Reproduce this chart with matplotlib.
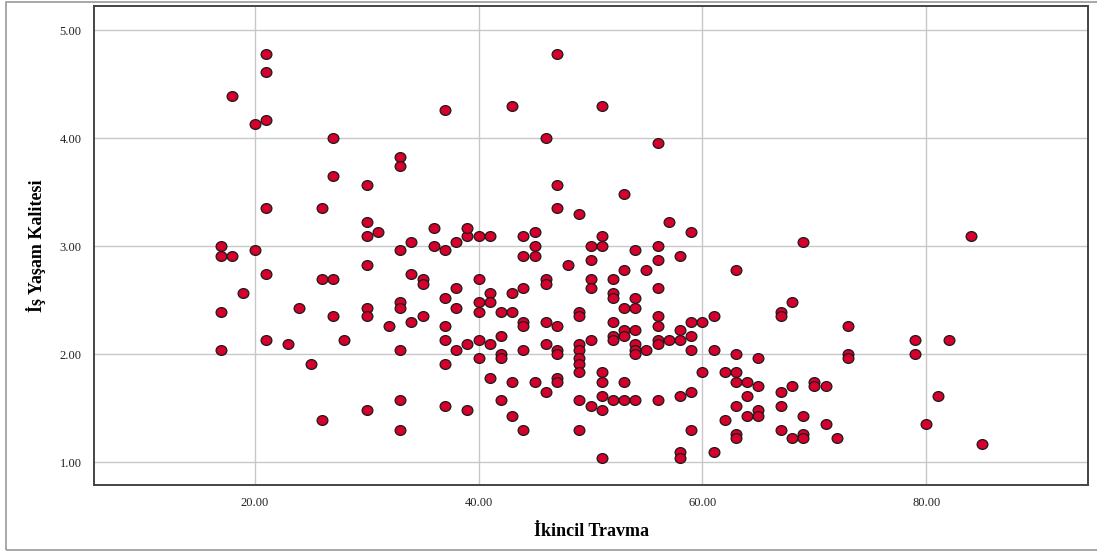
import numpy as np
import matplotlib
matplotlib.use("Agg")
import matplotlib.pyplot as plt
from matplotlib.path import Path
from matplotlib.transforms import Affine2D
from matplotlib.patches import Rectangle

plt.rcParams['font.family'] = ['Liberation Serif', 'DejaVu Serif']

# Ikincil Travma (x) and Is Yasam Kalitesi (y)
travma = [21, 21, 18, 21, 20, 27, 27, 21, 26, 17, 20,
          47, 37, 43, 46, 33, 33, 30, 47, 47, 49, 30, 30, 31, 36, 34, 36, 33, 37, 38,
          39, 39, 40, 41, 44, 45, 45, 50,
          51, 56, 53, 57, 59, 51, 51, 54, 56, 69, 84,
          17, 18, 21, 26, 27, 19, 24, 27, 17, 21, 23, 28, 17, 25, 26,
          30, 34, 35, 35, 40, 38, 41, 43, 44, 44, 45, 48, 46, 46, 50, 50, 50, 37, 38,
          40, 40, 41, 42, 43, 30, 30, 33, 33, 32, 34, 35, 37, 44, 44, 46, 47, 49, 49,
          50, 33, 37, 38, 39, 40, 41, 42, 42, 42, 40, 44, 46, 47, 47, 49, 49, 49, 49,
          49, 37, 41, 43, 45, 47, 47, 46, 33, 30, 37, 39, 42, 43, 49, 50, 33, 44, 49,
          58, 56, 53, 55, 63, 52, 56, 52, 52, 54, 53, 54, 68, 67, 67, 56, 52, 56, 59,
          60, 61, 53, 53, 54, 52, 52, 58, 59, 56, 56, 57, 58, 54, 54, 54, 55, 59, 61,
          63, 65, 51, 51, 53, 60, 62, 63, 63, 64, 65, 67, 68, 70, 70, 71, 51, 52, 53,
          54, 56, 58, 59, 51, 63, 64, 65, 65, 67, 62, 64, 69, 71, 59, 67, 63, 63, 68,
          69, 69, 72, 51, 58, 58, 61,
          73, 73, 73, 79, 79, 82, 81, 80, 85]

kalite = [4.78, 4.61, 4.39, 4.17, 4.13, 4.00, 3.65, 3.35, 3.35, 3.00, 2.96,
          4.78, 4.26, 4.30, 4.00, 3.83, 3.74, 3.57, 3.57, 3.35, 3.30, 3.22, 3.09, 3.13, 3.17, 3.04, 3.00, 2.96, 2.96, 3.04,
          3.09, 3.17, 3.09, 3.09, 3.09, 3.13, 3.00, 3.00,
          4.30, 3.96, 3.48, 3.22, 3.13, 3.09, 3.00, 2.96, 3.00, 3.04, 3.09,
          2.91, 2.91, 2.74, 2.70, 2.70, 2.57, 2.43, 2.35, 2.39, 2.13, 2.09, 2.13, 2.04, 1.91, 1.39,
          2.83, 2.74, 2.70, 2.65, 2.70, 2.61, 2.57, 2.57, 2.61, 2.91, 2.91, 2.83, 2.70, 2.65, 2.87, 2.70, 2.61, 2.52, 2.43,
          2.48, 2.39, 2.48, 2.39, 2.39, 2.43, 2.35, 2.48, 2.43, 2.26, 2.30, 2.35, 2.26, 2.30, 2.26, 2.30, 2.26, 2.39, 2.35,
          2.13, 2.04, 2.13, 2.04, 2.09, 2.13, 2.09, 2.17, 2.00, 1.96, 1.96, 2.04, 2.09, 2.04, 2.00, 2.09, 2.04, 1.96, 1.91,
          1.83, 1.91, 1.78, 1.74, 1.74, 1.78, 1.74, 1.65, 1.57, 1.48, 1.52, 1.48, 1.57, 1.43, 1.57, 1.52, 1.30, 1.30, 1.30,
          2.91, 2.87, 2.78, 2.78, 2.78, 2.70, 2.61, 2.57, 2.52, 2.52, 2.43, 2.43, 2.48, 2.39, 2.35, 2.35, 2.30, 2.26, 2.30,
          2.30, 2.35, 2.22, 2.17, 2.22, 2.17, 2.13, 2.22, 2.17, 2.13, 2.09, 2.13, 2.13, 2.09, 2.04, 2.00, 2.04, 2.04, 2.04,
          2.00, 1.96, 1.83, 1.74, 1.74, 1.83, 1.83, 1.83, 1.74, 1.74, 1.70, 1.65, 1.70, 1.74, 1.70, 1.70, 1.61, 1.57, 1.57,
          1.57, 1.57, 1.61, 1.65, 1.48, 1.52, 1.61, 1.48, 1.43, 1.52, 1.39, 1.43, 1.43, 1.35, 1.30, 1.30, 1.26, 1.22, 1.22,
          1.26, 1.22, 1.22, 1.04, 1.09, 1.04, 1.09,
          2.26, 2.00, 1.96, 2.13, 2.00, 2.13, 1.61, 1.35, 1.17]

xticks = [20, 40, 60, 80]
yticks = [1, 2, 3, 4, 5]

fig = plt.figure(figsize=(10.97, 5.51), dpi=100)
ax = fig.add_axes([0.0857, 0.1198, 0.9061, 0.8692])

# slightly wide oval marker like the SPSS output
oval = Path.unit_circle().transformed(Affine2D().scale(1.1, 1.0))
ax.scatter(travma, kalite, marker=oval, s=60, facecolor='#d6002c',
           edgecolor='#1a1a1a', linewidths=0.9, zorder=3)

ax.set_xlim(5.65, 94.44)
ax.set_ylim(0.787, 5.225)
ax.set_xticks(xticks)
ax.set_yticks(yticks)
ax.set_xticklabels(['%.2f' % t for t in xticks])
ax.set_yticklabels(['%.2f' % t for t in yticks])
ax.tick_params(length=0, labelsize=9, pad=9, colors='#222222')
ax.grid(True, color='#c8c8c8', lw=1)
ax.set_axisbelow(True)
for s in ax.spines.values():
    s.set_color('#444444')
    s.set_linewidth(1.4)

ax.set_xlabel('İkincil Travma', fontsize=13, fontweight='bold', labelpad=10)
ax.set_ylabel('İş Yaşam Kalitesi', fontsize=13, fontweight='bold', labelpad=10)

# outer chart frame
fig.add_artist(Rectangle((6 / 1097, 1 / 551), 1.2, 548 / 551, transform=fig.transFigure,
                         fill=False, edgecolor='#9a9a9a', lw=1.2))

fig.savefig('out.png', dpi=100)
